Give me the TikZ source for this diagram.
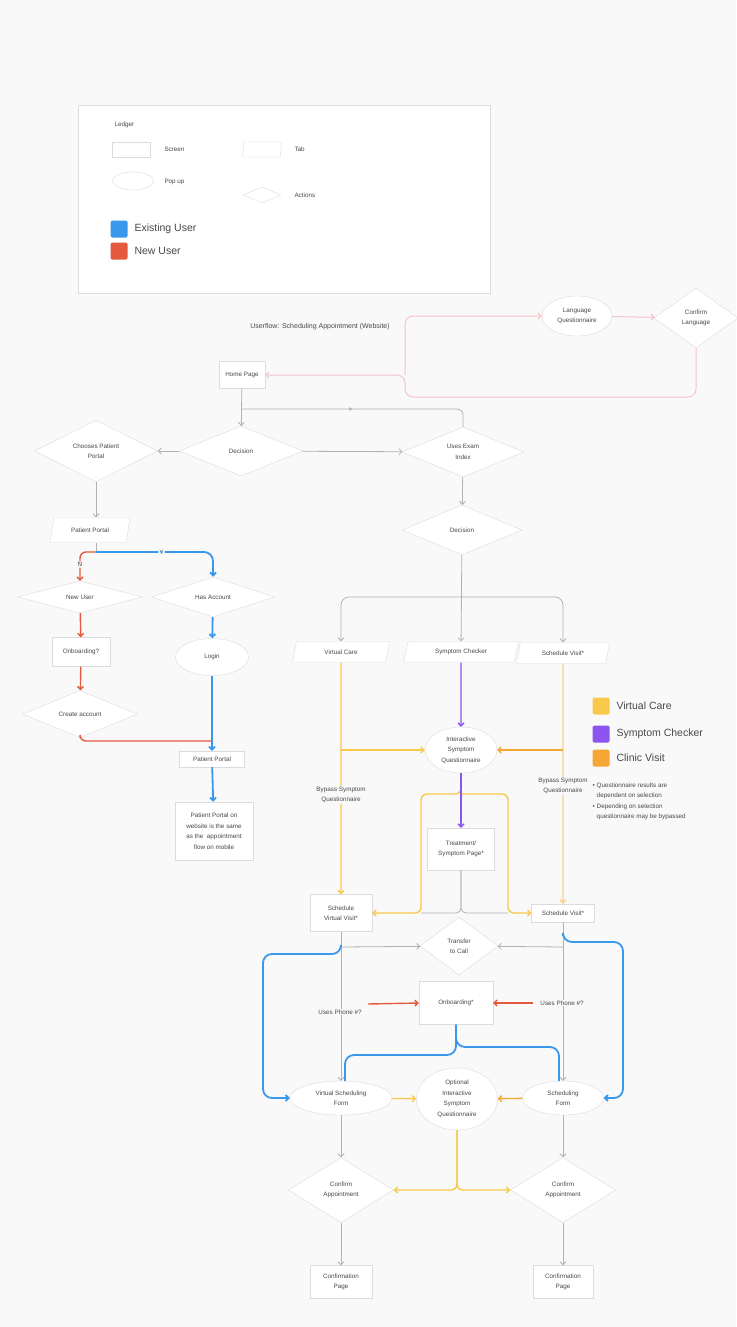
\documentclass[tikz,border=0pt]{standalone}
\usepackage{fontspec}
\setmainfont{Liberation Sans}
\usetikzlibrary{shapes.geometric,arrows.meta,decorations.markings}

\definecolor{canvas}{HTML}{F9F9F9}
\definecolor{outline}{HTML}{DCDCDC}
\definecolor{linegray}{HTML}{B2B2B2}
\definecolor{inkgray}{HTML}{484848}
\definecolor{userblue}{HTML}{3A98EA}
\definecolor{userred}{HTML}{E45A3F}
\definecolor{langpink}{HTML}{F6C3CB}
\definecolor{careyellow}{HTML}{F8C94A}
\definecolor{checkpurple}{HTML}{8C55F0}
\definecolor{clinicorange}{HTML}{F6A634}

\newcommand\flowsize{\fontsize{6.3}{10.5}\selectfont}
\newcommand\keysize{\fontsize{10.5}{12}\selectfont}

\begin{document}
\begin{tikzpicture}
        [x=1pt, y=-1pt, >={Straight Barb[length=3pt,width=6pt]},
         every node/.style={text=inkgray, font=\flowsize},
         wh/.style 2 args={minimum width=#1, minimum height=#2},
         screen/.style={rectangle, draw=outline, fill=white, align=center, inner sep=1pt},
         popup/.style={ellipse, draw=outline, fill=white, align=center, inner sep=0pt},
         tab/.style={trapezium, trapezium left angle=60, trapezium right angle=120,
                     trapezium stretches body=true, draw=outline, fill=white, inner sep=1pt},
         choice/.style={diamond, draw=outline, fill=white, align=center, inner sep=0pt},
         tag/.style={fill=canvas, inner sep=1pt, align=center},
         plain/.style={draw=linegray, line width=0.8pt},
         link/.style={->, plain},
         existing/.style={->, draw=userblue, line width=1.8pt, rounded corners=9pt},
         newuser/.style={->, draw=userred, line width=1.4pt, rounded corners=6pt},
         lang/.style={->, draw=langpink, line width=1pt, rounded corners=8pt},
         vcare/.style={->, draw=careyellow, line width=1.4pt, rounded corners=6pt},
         clinic/.style={->, draw=clinicorange, line width=1.4pt},
         check/.style={->, draw=checkpurple, line width=1.4pt}]

        \fill[canvas] (0,0) rectangle (736,1327);
        \useasboundingbox (0,0) rectangle (736,1327);

        % ledger
        \node[draw=outline, fill=white, wh={412}{188}, anchor=north west] (ledger) at (78,105) {};
        \node[anchor=west] (ledger-title) at (111,125) {Ledger};
        \node[screen, wh={38}{15}] (key-screen) at (131,149.5) {};
        \node[anchor=west] (key-screen-text) at (161,149.5) {Screen};
        \node[popup, wh={41}{18}] (key-popup) at (133,181) {};
        \node[anchor=west] (key-popup-text) at (161,182) {Pop up};
        \node[tab, wh={39}{15}] (key-tab) at (262,149.5) {};
        \node[anchor=west] (key-tab-text) at (291,149.5) {Tab};
        \node[choice, wh={38}{16}] (key-action) at (262,195) {};
        \node[anchor=west] (key-action-text) at (291,195) {Actions};

        \foreach \col/\y/\txt[count=\i] in {userblue/229/Existing User, userred/251/New User}
        {
        \node[fill=\col, rounded corners=1.5pt, minimum size=17pt, inner sep=0pt] (user-key-\i) at (119,\y) {};
        \node[anchor=west, font=\keysize] (user-key-text-\i) at (131,\y) {\txt};
        }

        \foreach \col/\y/\txt[count=\i] in {careyellow/706/Virtual Care, checkpurple/734/Symptom Checker, clinicorange/758/Clinic Visit}
        {
        \node[fill=\col, rounded corners=1.5pt, minimum size=17pt, inner sep=0pt] (path-key-\i) at (601,\y) {};
        \node[anchor=west, font=\keysize] (path-key-text-\i) at (613,\y) {\txt};
        }

        \node[anchor=north west, align=left] (notes) at (589,779)
        {\textbullet\hspace{2pt}Questionnaire results are\\
         \phantom{\textbullet}\hspace{2pt}dependent on selection\\
         \textbullet\hspace{2pt}Depending on selection\\
         \phantom{\textbullet}\hspace{2pt}questionnaire may be bypassed};

        % language loop
        \node[font=\fontsize{7}{8}\selectfont] (flow-title) at (320,327) {Userflow: Scheduling Appointment (Website)};
        \node[screen, wh={46}{27}] (home) at (242,375) {Home Page};
        \node[popup, wh={70}{40}] (lang-quiz) at (577,316) {Language\\Questionnaire};
        \node[choice, wh={84}{60}] (lang-confirm) at (696,318) {Confirm\\Language};

        \coordinate (lang-up) at (405,375);
        \coordinate (lang-down) at (405,397);
        \draw[lang] (lang-up) |- (lang-quiz.west);
        \draw[lang] (lang-quiz) -- (lang-confirm);
        \draw[lang] (lang-confirm.south) |- (lang-down) |- (home.east);

        % top decisions
        \node[choice, wh={124}{50}] (decision-1) at (241,451) {Decision};
        \node[choice, wh={123}{51}] (portal-choice) at (96,451) {Chooses Patient\\Portal};
        \node[choice, wh={122}{50}] (exam-index) at (463,452) {Uses Exam\\Index};
        \node[choice, wh={120}{50}] (decision-2) at (462,530) {Decision};

        \coordinate (home-split) at (242,409);
        \draw[link] (home) -- (decision-1);
        \draw[plain, rounded corners=6pt, postaction={decorate},
              decoration={markings, mark=at position 0.47 with {\arrow[linegray]{Latex[length=4pt,width=4pt]}}}]
              (home-split) -| (exam-index.north);
        \draw[link] (decision-1) -- (portal-choice);
        \draw[link] (decision-1) -- (exam-index);
        \draw[link] (exam-index) -- (decision-2);

        % patient portal branch
        \node[tab, wh={80}{25}] (portal-tab) at (90,530) {Patient Portal};
        \node[choice, wh={125}{26}] (new-user) at (80,597) {New User};
        \node[choice, wh={123}{26}] (has-account) at (213,597) {Has Account};
        \node[screen, wh={58}{29}] (onboarding-1) at (81,652) {Onboarding?};
        \node[popup, wh={73}{37}] (login) at (212,657) {Login};
        \node[choice, wh={115}{32}] (create-account) at (80,714) {Create account};
        \node[screen, wh={65}{16}] (portal-page) at (212,759) {Patient Portal};
        \node[screen, wh={78}{58}] (portal-note) at (214,831)
        {Patient Portal on\\website is the same\\as the \ appointment\\flow on mobile};

        \coordinate (portal-split) at (96,552);
        \coordinate (red-join) at (212,741);
        \draw[link] (portal-choice) -- (portal-choice |- portal-tab.north);
        \draw[plain] (portal-tab.south -| portal-split) -- (portal-split);
        \draw[newuser] (portal-split) -| node[tag, pos=0.72] (no-label) {N} (new-user.north);
        \draw[newuser] (new-user) -- (onboarding-1);
        \draw[newuser] (onboarding-1) -- (create-account);
        \draw[newuser, -] (create-account.south) |- (red-join);
        \draw[existing] (portal-split) -| node[tag, pos=0.28] (yes-label) {Y} (has-account.north);
        \draw[existing] (has-account) -- (login);
        \draw[existing] (login) -- (portal-page);
        \draw[existing] (portal-page) -- (portal-note);

        % care paths
        \node[tab, wh={97}{21}] (virtual-care) at (341,652) {Virtual Care};
        \node[tab, wh={115}{21}] (symptom-checker) at (461,652) {Symptom Checker};
        \node[tab, wh={93}{21}] (schedule-visit) at (563,653) {Schedule Visit*};
        \node[popup, wh={72}{46}] (symptom-quiz) at (461,750) {Interactive\\Symptom\\Questionnaire};
        \node[screen, wh={67}{42}] (treatment) at (461,849) {Treatment/\\Symptom Page*};
        \node[screen, wh={62}{37}] (virtual-visit) at (341,913) {Schedule\\Virtual Visit*};
        \node[screen, wh={63}{18}] (clinic-visit) at (563,913) {Schedule Visit*};

        \coordinate (care-split) at (461,597);
        \draw[link] (decision-2) -- (symptom-checker);
        \draw[link, rounded corners=8pt] (care-split) -| (virtual-care);
        \draw[link, rounded corners=8pt] (care-split) -| (schedule-visit);

        \coordinate (virtual-branch) at (341,750);
        \coordinate (clinic-branch) at (563,750);
        \coordinate (quiz-split) at (461,794);
        \coordinate (bend-left) at (421,913);
        \coordinate (bend-right) at (508,913);

        \draw[plain, rounded corners=5pt] (treatment.south) |- (bend-left);
        \draw[plain, rounded corners=5pt] (treatment.south) |- (bend-right);
        \draw[vcare] (virtual-care) -- (virtual-visit);
        \draw[vcare] (virtual-branch) -- (symptom-quiz);
        \draw[clinic, draw=clinicorange!55] (schedule-visit) -- (clinic-visit);
        \draw[clinic] (clinic-branch) -- (symptom-quiz);
        \draw[vcare] (symptom-quiz.south) -- (quiz-split) -| (bend-left) -- (virtual-visit.east);
        \draw[vcare] (quiz-split) -| (bend-right) -- (clinic-visit.west);
        \draw[check] (symptom-checker) -- (symptom-quiz);
        \draw[check] (symptom-quiz) -- (treatment);

        \node[tag] (bypass-left) at (341,795) {Bypass Symptom\\Questionnaire};
        \node[tag] (bypass-right) at (563,786) {Bypass Symptom\\Questionnaire};

        % scheduling
        \node[choice, wh={78}{58}] (transfer) at (459,946) {Transfer\\to Call};
        \node[screen, wh={74}{43}] (onboarding-2) at (456,1003) {Onboarding*};
        \node[popup, wh={102}{34}] (virtual-form) at (341,1098) {Virtual Scheduling\\Form};
        \node[popup, wh={81}{62}] (optional-quiz) at (457,1099) {Optional\\Interactive\\Symptom\\Questionnaire};
        \node[popup, wh={81}{34}] (schedule-form) at (563,1098) {Scheduling\\Form};
        \node[choice, wh={105}{65}] (confirm-1) at (341,1190) {Confirm\\Appointment};
        \node[choice, wh={105}{65}] (confirm-2) at (563,1190) {Confirm\\Appointment};
        \node[screen, wh={62}{33}] (done-1) at (341,1282) {Confirmation\\Page};
        \node[screen, wh={60}{33}] (done-2) at (563,1282) {Confirmation\\Page};

        \coordinate (virtual-split) at (341,947);
        \coordinate (clinic-split) at (563,947);
        \coordinate (clinic-top) at (563,936);
        \coordinate (blue-left) at (263,954);
        \coordinate (blue-right) at (623,942);
        \coordinate (onboard-left) at (345,1055);
        \coordinate (onboard-right) at (559,1047);
        \coordinate (phone-left) at (368,1004);
        \coordinate (phone-right) at (533,1003);

        \draw[existing, -] (onboarding-2.south) |- (onboard-left) -- (onboard-left |- virtual-form.north);
        \draw[existing, -] (onboarding-2.south) |- (onboard-right) -- (onboard-right |- schedule-form.north);
        \draw[link] (virtual-visit) -- (virtual-form);
        \draw[link] (clinic-visit) -- (schedule-form);
        \draw[link] (virtual-split) -- (transfer);
        \draw[link] (clinic-split) -- (transfer);
        \draw[existing] (virtual-split) |- (blue-left) |- (virtual-form.west);
        \draw[existing] (clinic-top) |- (blue-right) |- (schedule-form.east);
        \draw[newuser] (phone-left) -- (onboarding-2.west);
        \draw[newuser] (phone-right) -- (onboarding-2.east);
        \node[tag] (phone-label-left) at (340,1012) {Uses Phone \#?};
        \node[tag] (phone-label-right) at (562,1003) {Uses Phone \#?};

        \draw[vcare] (virtual-form) -- (optional-quiz);
        \draw[clinic] (schedule-form) -- (optional-quiz);
        \draw[vcare] (optional-quiz.south) |- (confirm-1.east);
        \draw[vcare] (optional-quiz.south) |- (confirm-2.west);

        \draw[link] (virtual-form) -- (confirm-1);
        \draw[link] (schedule-form) -- (confirm-2);
        \draw[link] (confirm-1) -- (done-1);
        \draw[link] (confirm-2) -- (done-2);
    \end{tikzpicture}
\end{document}
